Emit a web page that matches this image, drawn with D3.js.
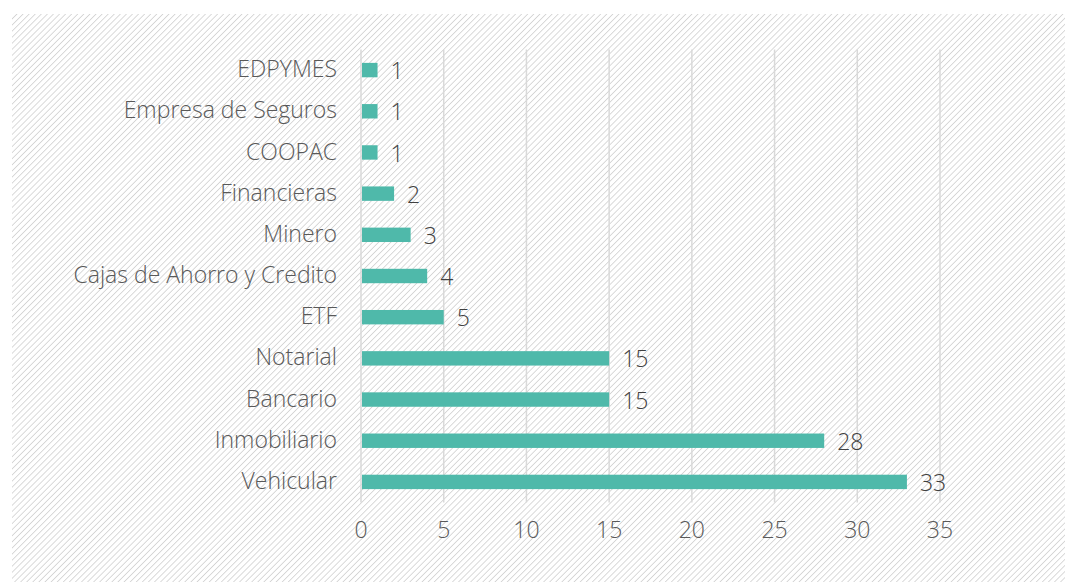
<!DOCTYPE html>
<html>
<head>
<meta charset="utf-8">
<script src="https://cdn.jsdelivr.net/npm/d3@7"></script>
<style>
  body { margin: 0; background: #fff; }
  svg { display: block; font-family: "Open Sans", sans-serif; font-weight: 300; }
</style>
</head>
<body>
<svg id="chart" width="1065" height="582"></svg>
<script>
// data, top to bottom as in the picture
const categories = ["EDPYMES", "Empresa de Seguros", "COOPAC", "Financieras", "Minero",
  "Cajas de Ahorro y Credito", "ETF", "Notarial", "Bancario", "Inmobiliario", "Vehicular"];
const values = [1, 1, 1, 2, 3, 4, 5, 15, 15, 28, 33];
const xTicks = [0, 5, 10, 15, 20, 25, 30, 35];

const svg = d3.select("#chart");
const width = 1065, height = 582;
const margin = { left: 361, right: 125, top: 49.5, bottom: 79.5 };

// hatched background
const defs = svg.append("defs");
const pat = defs.append("pattern")
  .attr("id", "hatch")
  .attr("patternUnits", "userSpaceOnUse")
  .attr("width", 4.3).attr("height", 4.3)
  .attr("patternTransform", "rotate(45)");
pat.append("rect").attr("width", 4.3).attr("height", 4.3).attr("fill", "#fff");
pat.append("line")
  .attr("x1", 0).attr("y1", 0).attr("x2", 0).attr("y2", 4.3)
  .attr("stroke", "#bcbcbc").attr("stroke-width", 1.1);

svg.append("rect")
  .attr("x", 12).attr("y", 14)
  .attr("width", width - 12).attr("height", height - 14)
  .attr("fill", "url(#hatch)");

const x = d3.scaleLinear().domain([0, 35]).range([margin.left, 940]);
const y = d3.scaleBand().domain(categories)
  .range([margin.top, height - margin.bottom])
  .paddingInner(0.65).paddingOuter(0.325);

// gridlines
svg.append("g")
  .selectAll("line")
  .data(xTicks)
  .enter()
  .append("line")
  .attr("x1", d => x(d)).attr("x2", d => x(d))
  .attr("y1", margin.top).attr("y2", height - margin.bottom)
  .attr("stroke", "#d9d9d9")
  .attr("stroke-width", 1.5);

// x tick labels
svg.append("g")
  .selectAll("text")
  .data(xTicks)
  .enter()
  .append("text")
  .attr("x", d => x(d))
  .attr("y", 530)
  .attr("dy", "0.35em")
  .attr("text-anchor", "middle")
  .attr("fill", "#595959")
  .style("font-size", "23px")
  .text(d => d);

// bars
svg.append("g")
  .selectAll("rect")
  .data(values)
  .enter()
  .append("rect")
  .attr("x", x(0) + 1)
  .attr("y", (d, i) => y(categories[i]))
  .attr("width", d => x(d) - x(0) - 1)
  .attr("height", y.bandwidth())
  .attr("fill", "#4fb9aa");

// category labels
svg.append("g")
  .selectAll("text")
  .data(categories)
  .enter()
  .append("text")
  .attr("x", 337)
  .attr("y", d => y(d) + y.bandwidth() / 2 - 1)
  .attr("dy", "0.35em")
  .attr("text-anchor", "end")
  .attr("fill", "#595959")
  .style("font-size", "23px")
  .text(d => d);

// value labels
svg.append("g")
  .selectAll("text")
  .data(values)
  .enter()
  .append("text")
  .attr("x", d => x(d) + 13)
  .attr("y", (d, i) => y(categories[i]) + y.bandwidth() / 2 + 1)
  .attr("dy", "0.35em")
  .attr("fill", "#404040")
  .style("font-size", "23px")
  .text(d => d);
</script>
</body>
</html>
